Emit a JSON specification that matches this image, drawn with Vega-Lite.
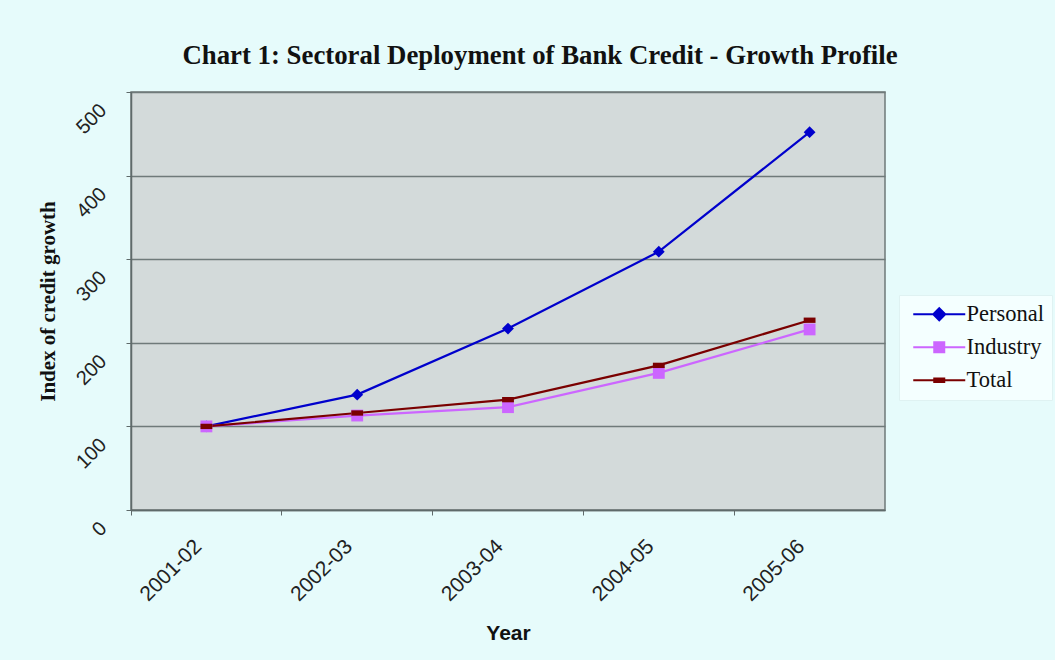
{
  "$schema": "https://vega.github.io/schema/vega-lite/v6.json",
  "autosize": {"type": "none"},
  "width": 754,
  "height": 418,
  "padding": {"left": 131, "top": 92, "right": 170, "bottom": 150},
  "background": "#e6fbfb",
  "title": {
    "text": "Chart 1: Sectoral Deployment of Bank Credit - Growth Profile",
    "font": "Liberation Serif",
    "fontSize": 26.8,
    "fontWeight": "bold",
    "color": "#111111",
    "anchor": "middle",
    "frame": "group",
    "baseline": "alphabetic",
    "offset": 1,
    "dx": 32
  },
  "config": {
    "view": {"fill": "#d3dada", "stroke": "#6f7a7a", "strokeWidth": 1.5},
    "axis": {"labelFont": "Liberation Sans", "labelColor": "#222222", "domainColor": "#5f6a6a", "tickColor": "#5f6a6a", "domainWidth": 1.5}
  },
  "data": {
    "values": [
      {"year": "2001-02", "series": "Personal", "value": 100},
      {"year": "2002-03", "series": "Personal", "value": 138},
      {"year": "2003-04", "series": "Personal", "value": 217},
      {"year": "2004-05", "series": "Personal", "value": 309},
      {"year": "2005-06", "series": "Personal", "value": 452},
      {"year": "2001-02", "series": "Industry", "value": 100},
      {"year": "2002-03", "series": "Industry", "value": 113},
      {"year": "2003-04", "series": "Industry", "value": 123},
      {"year": "2004-05", "series": "Industry", "value": 164},
      {"year": "2005-06", "series": "Industry", "value": 216},
      {"year": "2001-02", "series": "Total", "value": 100},
      {"year": "2002-03", "series": "Total", "value": 116},
      {"year": "2003-04", "series": "Total", "value": 132},
      {"year": "2004-05", "series": "Total", "value": 173},
      {"year": "2005-06", "series": "Total", "value": 227}
    ]
  },
  "encoding": {
    "x": {
      "field": "year", "type": "nominal",
      "scale": {"type": "band", "paddingInner": 0, "paddingOuter": 0},
      "axis": {
        "title": "Year", "titleFont": "Liberation Sans", "titleFontSize": 21, "titleFontWeight": "bold", "titleColor": "#111111",
        "titleX": 377, "titleY": 123, "titleBaseline": "middle",
        "labelAngle": -45, "labelAlign": "right", "labelBaseline": "middle", "labelFontSize": 21,
        "labelPadding": 28, "labelOffset": -8, "bandPosition": 0, "tickSize": 5, "grid": false
      }
    },
    "y": {
      "field": "value", "type": "quantitative",
      "scale": {"domain": [0, 500], "nice": false},
      "axis": {
        "values": [0, 100, 200, 300, 400, 500],
        "title": "Index of credit growth", "titleFont": "Liberation Serif", "titleFontSize": 21, "titleFontWeight": "bold", "titleColor": "#111111",
        "titleX": -83, "titleY": 209, "titleBaseline": "middle", "titleAngle": -90,
        "labelAngle": -45, "labelAlign": "right", "labelBaseline": "middle", "labelFontSize": 20,
        "labelPadding": 23, "labelOffset": 15, "tickSize": 5,
        "grid": true, "gridColor": "#6f7a7a", "gridWidth": 1.5
      }
    },
    "color": {
      "field": "series", "type": "nominal",
      "scale": {"domain": ["Personal", "Industry", "Total"], "range": ["#0000cc", "#cc66ff", "#7a0000"]},
      "legend": {
        "orient": "none", "legendX": 768, "legendY": 203, "title": null, "padding": 8,
        "fillColor": "#f4ffff", "strokeColor": "#dff2f2",
        "labelFont": "Liberation Serif", "labelFontSize": 22.5, "labelColor": "#111111",
        "labelOffset": 37, "rowPadding": 10, "symbolSize": 100,
        "encode": {
          "symbols": {
            "update": {
              "shape": {"signal": "datum.value === 'Personal' ? 'M-1,0L9.4,0M4.2,-1.2L5.4,0L4.2,1.2L3,0Z' : datum.value === 'Industry' ? 'M-1,0L9.4,0M3.2,-1L5.2,-1L5.2,1L3.2,1Z' : 'M-1,0L9.4,0M3.2,-0.35L5.2,-0.35L5.2,0.35L3.2,0.35Z'"},
              "fill": {"scale": "color", "field": "value"},
              "stroke": {"scale": "color", "field": "value"},
              "strokeWidth": {"value": 2},
              "fillOpacity": {"value": 1},
              "opacity": {"value": 1}
            }
          }
        }
      }
    }
  },
  "layer": [
    {"mark": {"type": "line", "strokeWidth": 2.2}},
    {
      "mark": {"type": "point", "filled": true, "opacity": 1, "size": 140},
      "encoding": {
        "shape": {
          "condition": [
            {"test": "datum.series === 'Personal'", "value": "diamond"},
            {"test": "datum.series === 'Total'", "value": "M-1,-0.45L1,-0.45L1,0.45L-1,0.45Z"}
          ],
          "value": "square"
        }
      }
    }
  ]
}
